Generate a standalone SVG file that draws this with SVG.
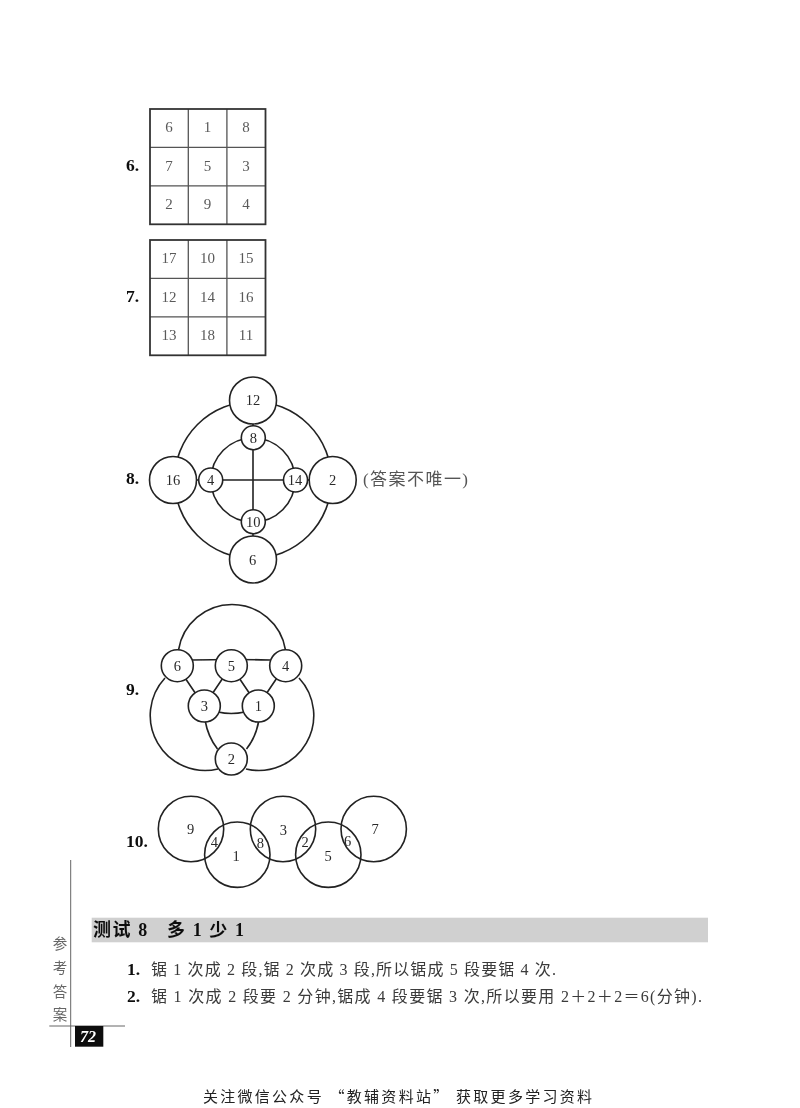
<svg xmlns="http://www.w3.org/2000/svg" width="800" height="1108" viewBox="0 0 800 1108">
<defs>
<filter id="soft" x="-2%" y="-2%" width="104%" height="104%"><feGaussianBlur stdDeviation="0.35"/></filter>
</defs>
<style>
.t{font-family:"Liberation Serif","Noto Sans CJK SC",serif}
.num{font-size:15px;fill:#5a5a5a;text-anchor:middle}
.n{font-size:14.5px;fill:#2a2a2a;text-anchor:middle}
.lab{font-size:17.5px;font-weight:bold;fill:#111}
.body{font-size:16px;fill:#3a3a3a;font-family:"Liberation Serif","Noto Sans CJK SC",serif}
.head{font-size:18px;font-weight:bold;fill:#111;font-family:"Liberation Serif","Noto Sans CJK SC",serif}
.grid{fill:none;stroke:#555;stroke-width:1.3}
.frame{fill:none;stroke:#333;stroke-width:1.8}
.edge{fill:none;stroke:#222;stroke-width:1.6}
.node{fill:#fff;stroke:#222;stroke-width:1.6}
.ring{fill:none;stroke:#222;stroke-width:1.6}
.side{font-size:14.5px;fill:#666;text-anchor:middle;font-family:"Noto Sans CJK SC",sans-serif}
</style>
<rect width="800" height="1108" fill="#fff"/>
<g filter="url(#soft)">

<g id="problem-6" class="t">
<text class="lab" x="126" y="171">6.</text>
<path class="grid" d="M188.3 109V224M226.9 109V224M150 147.3H265M150 185.9H265"/>
<rect class="frame" x="150" y="109" width="115.5" height="115.3"/>
<text class="num" x="169" y="132">6</text><text class="num" x="207.5" y="132">1</text><text class="num" x="246" y="132">8</text>
<text class="num" x="169" y="171">7</text><text class="num" x="207.5" y="171">5</text><text class="num" x="246" y="171">3</text>
<text class="num" x="169" y="209">2</text><text class="num" x="207.5" y="209">9</text><text class="num" x="246" y="209">4</text>
</g>

<g id="problem-7" class="t">
<text class="lab" x="126" y="302">7.</text>
<path class="grid" d="M188.3 240V355M226.9 240V355M150 278.3H265M150 316.9H265"/>
<rect class="frame" x="150" y="240" width="115.5" height="115.3"/>
<text class="num" x="169" y="263">17</text><text class="num" x="207.5" y="263">10</text><text class="num" x="246" y="263">15</text>
<text class="num" x="169" y="302">12</text><text class="num" x="207.5" y="302">14</text><text class="num" x="246" y="302">16</text>
<text class="num" x="169" y="340">13</text><text class="num" x="207.5" y="340">18</text><text class="num" x="246" y="340">11</text>
</g>

<text class="t lab" x="126" y="484">8.</text>
<g id="connectors-8">
<circle class="ring" cx="253" cy="480" r="78.5"/>
<circle class="ring" cx="253" cy="480" r="42"/>
<path class="edge" d="M253 400V560M173 480H333"/>
</g>
<g id="n8-12" class="t"><circle class="node" cx="253" cy="400.5" r="23.5"/><text class="n" x="253" y="405">12</text></g>
<g id="n8-16" class="t"><circle class="node" cx="173" cy="480" r="23.5"/><text class="n" x="173" y="485">16</text></g>
<g id="n8-2" class="t"><circle class="node" cx="332.7" cy="480" r="23.5"/><text class="n" x="332.7" y="485">2</text></g>
<g id="n8-6" class="t"><circle class="node" cx="253" cy="559.5" r="23.5"/><text class="n" x="252.5" y="565">6</text></g>
<g id="n8-8" class="t"><circle class="node" cx="253.3" cy="437.7" r="12"/><text class="n" x="253.3" y="442.5">8</text></g>
<g id="n8-4" class="t"><circle class="node" cx="210.7" cy="480" r="12"/><text class="n" x="210.7" y="485">4</text></g>
<g id="n8-14" class="t"><circle class="node" cx="295.5" cy="480" r="12"/><text class="n" x="295" y="485">14</text></g>
<g id="n8-10" class="t"><circle class="node" cx="253.3" cy="521.7" r="12"/><text class="n" x="253.3" y="526.5">10</text></g>
<text x="363" y="485" font-size="17" fill="#555" textLength="105" lengthAdjust="spacing" font-family="Liberation Serif, Noto Sans CJK SC, serif">(答案不唯一)</text>

<text class="t lab" x="126" y="695">9.</text>
<g id="connectors-9">
<path class="edge" d="M178.5 650A54.2 54.2 0 0 1 285.5 650"/>
<path class="edge" d="M165 678A55 55 0 0 0 218 769"/>
<path class="edge" d="M299 678A55 55 0 0 1 246 769"/>
<path class="edge" d="M192 660Q231 659 270 660"/>
<path class="edge" d="M177 666L204 706M231 666L204 706M231 666L258 706M285 666L258 706"/>
<path class="edge" d="M218 712Q231 715 245 712"/>
<path class="edge" d="M205 720Q208 737 217.5 749M259 720Q256 737 246.5 749"/>
</g>
<g id="n9-6" class="t"><circle class="node" cx="177.3" cy="665.7" r="16"/><text class="n" x="177.3" y="670.5">6</text></g>
<g id="n9-5" class="t"><circle class="node" cx="231.3" cy="665.7" r="16"/><text class="n" x="231.3" y="670.5">5</text></g>
<g id="n9-4" class="t"><circle class="node" cx="285.7" cy="665.7" r="16"/><text class="n" x="285.7" y="670.5">4</text></g>
<g id="n9-3" class="t"><circle class="node" cx="204.3" cy="706" r="16"/><text class="n" x="204.3" y="711">3</text></g>
<g id="n9-1" class="t"><circle class="node" cx="258.3" cy="706" r="16"/><text class="n" x="258.3" y="711">1</text></g>
<g id="n9-2" class="t"><circle class="node" cx="231.3" cy="759" r="16"/><text class="n" x="231.3" y="764">2</text></g>

<text class="t lab" x="126" y="847">10.</text>
<g id="n10-9" class="t"><circle class="ring" cx="191" cy="829" r="32.7"/><text class="n" x="190.7" y="834">9</text></g>
<g id="n10-1" class="t"><circle class="ring" cx="237.3" cy="854.7" r="32.7"/><text class="n" x="236" y="860.5">1</text></g>
<g id="n10-3" class="t"><circle class="ring" cx="283" cy="829" r="32.7"/><text class="n" x="283.3" y="834.5">3</text></g>
<g id="n10-5" class="t"><circle class="ring" cx="328.3" cy="854.7" r="32.7"/><text class="n" x="328" y="860.5">5</text></g>
<g id="n10-7" class="t"><circle class="ring" cx="373.7" cy="829" r="32.7"/><text class="n" x="375" y="834">7</text></g>
<g id="n10-4" class="t"><text class="n" x="214.3" y="847">4</text></g>
<g id="n10-8" class="t"><text class="n" x="260.3" y="847.5">8</text></g>
<g id="n10-2" class="t"><text class="n" x="305" y="847">2</text></g>
<g id="n10-6" class="t"><text class="n" x="347.7" y="846">6</text></g>

<g id="margin">
<path d="M70.7 860V1047M49.3 1026H125" fill="none" stroke="#666" stroke-width="1"/>
<text class="side" x="60" y="949">参</text>
<text class="side" x="60" y="973">考</text>
<text class="side" x="60" y="997">答</text>
<text class="side" x="60" y="1020">案</text>
<rect x="75" y="1026" width="28.3" height="20.7" fill="#0a0a0a"/>
<text x="88" y="1041.5" font-family="Liberation Serif, serif" font-size="16" font-weight="bold" font-style="italic" fill="#fff" text-anchor="middle">72</text>
</g>

<g id="section-bar">
<rect x="91.7" y="917.7" width="616.3" height="24.6" fill="#d0d0d0"/>
<text class="head" x="93" y="936" textLength="151" lengthAdjust="spacing" xml:space="preserve">测试 8   多 1 少 1</text>
</g>

<g id="answers">
<text class="t lab" x="127" y="975">1.</text>
<text class="body" x="151" y="975" textLength="405" lengthAdjust="spacing">锯 1 次成 2 段,锯 2 次成 3 段,所以锯成 5 段要锯 4 次.</text>
<text class="t lab" x="127" y="1002">2.</text>
<text class="body" x="151" y="1002" textLength="551" lengthAdjust="spacing">锯 1 次成 2 段要 2 分钟,锯成 4 段要锯 3 次,所以要用 2＋2＋2＝6(分钟).</text>
</g>

<text id="footer" x="203" y="1102" font-family="Noto Sans CJK SC, sans-serif" font-size="15" fill="#222" textLength="389" lengthAdjust="spacing">关注微信公众号 “教辅资料站” 获取更多学习资料</text>
</g>
</svg>
